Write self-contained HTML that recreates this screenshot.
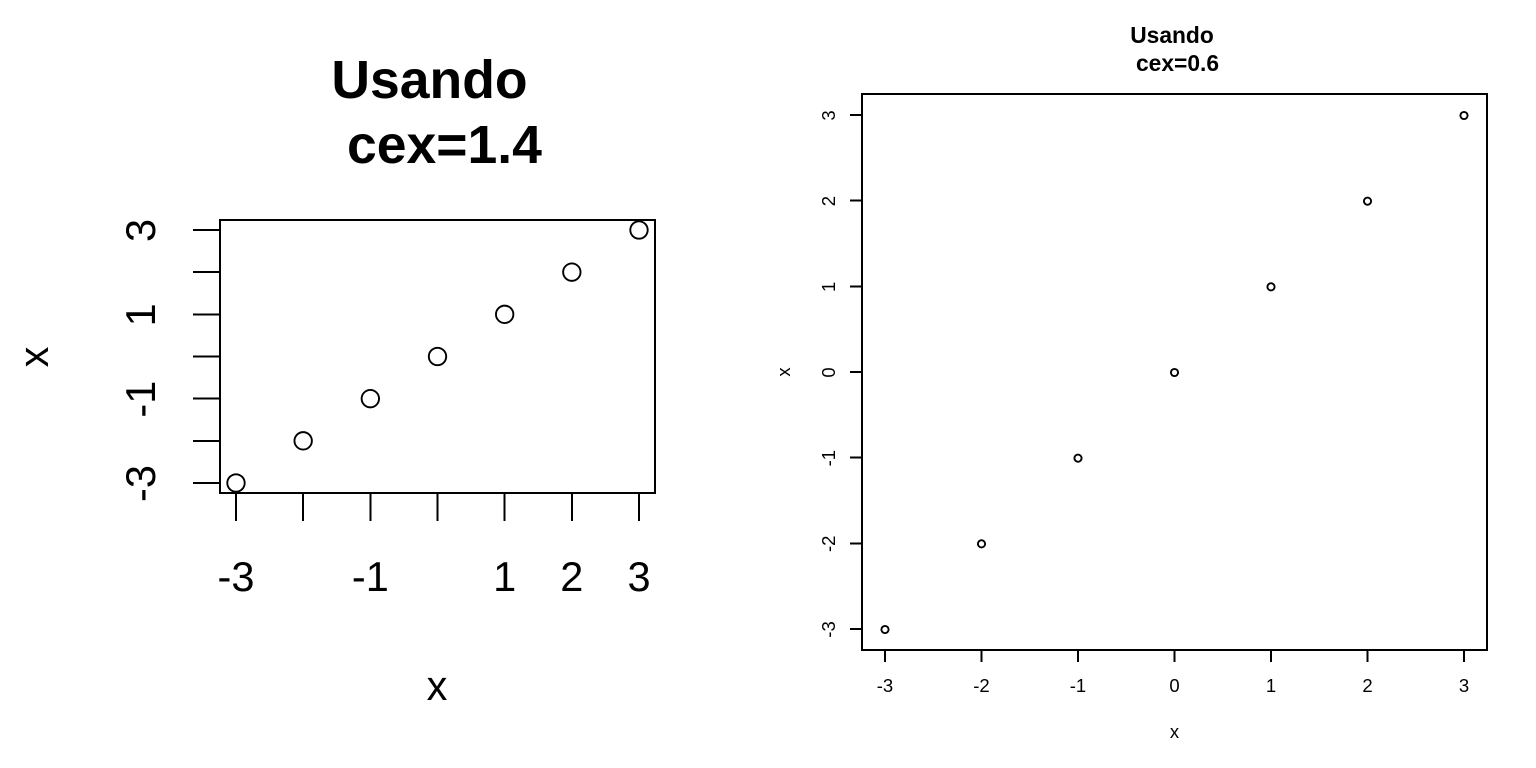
<!DOCTYPE html>
<html>
<head>
<meta charset="utf-8">
<style>
html,body{margin:0;padding:0;background:#fff;width:1536px;height:768px;overflow:hidden}
svg{display:block;font-family:"Liberation Sans",Arial,sans-serif}
</style>
</head>
<body>
<svg id="chart" xmlns="http://www.w3.org/2000/svg" width="1536" height="768" viewBox="0 0 1536 768"></svg>
<script>
const xValues = [-3, -2, -1, 0, 1, 2, 3];
const yValues = [-3, -2, -1, 0, 1, 2, 3];
const leftXTickLabels = ["-3", "", "-1", "", "1", "2", "3"];
const leftYTickLabels = ["-3", "", "-1", "", "1", "", "3"];
const rightXTickLabels = ["-3", "-2", "-1", "0", "1", "2", "3"];
const rightYTickLabels = ["-3", "-2", "-1", "0", "1", "2", "3"];
const ticks = [-3, -2, -1, 0, 1, 2, 3];

const svg = document.getElementById('chart');
const NS = 'http://www.w3.org/2000/svg';
function mk(tag, attrs, parent, text) {
  const e = document.createElementNS(NS, tag);
  for (const k in attrs) e.setAttribute(k, attrs[k]);
  if (text !== undefined) e.textContent = text;
  (parent || svg).appendChild(e);
  return e;
}
function scale(d0, d1, r0, r1) {
  return v => r0 + (v - d0) / (d1 - d0) * (r1 - r0);
}
function drawPanel(cfg) {
  const g = mk('g', {}, svg);
  
  
  const sx = scale(-3, 3, cfg.x0, cfg.x1);
  const sy = scale(-3, 3, cfg.y0, cfg.y1);

  const box = mk('rect', {x: cfg.bl, y: cfg.bt, width: cfg.br - cfg.bl, height: cfg.bb - cfg.bt, fill: 'none', stroke: '#000', 'stroke-width': 2, 'shape-rendering': 'crispEdges'}, g);
  
  

  ticks.forEach((t, i) => {
    const xt = mk('line', {x1: sx(t), x2: sx(t), y1: cfg.bb, y2: cfg.bb + cfg.tickX, stroke: '#000', 'stroke-width': 2, 'shape-rendering': 'crispEdges'}, g);
    
    
    const yt = mk('line', {y1: sy(t), y2: sy(t), x1: cfg.bl, x2: cfg.bl - cfg.tickY, stroke: '#000', 'stroke-width': 2, 'shape-rendering': 'crispEdges'}, g);
    
    
    if (cfg.xLabels[i]) {
      const xl = mk('text', {x: sx(t), y: cfg.xLabelY, 'text-anchor': 'middle', 'font-size': cfg.tickFont}, g, cfg.xLabels[i]);
      
      
    }
    if (cfg.yLabels[i]) {
      const yl = mk('text', {x: 0, y: 0, 'text-anchor': 'middle', 'font-size': cfg.tickFont, transform: 'translate(' + cfg.yLabelX + ',' + (sy(t) + 0.5) + ') rotate(-90)'}, g, cfg.yLabels[i]);
      
      
    }
  });

  xValues.forEach((v, i) => {
    const c = mk('circle', {cx: sx(v), cy: sy(yValues[i]) + cfg.markerDy, r: cfg.r, fill: 'none', stroke: '#000', 'stroke-width': 1.9}, g);
    
    
  });

  const xt = mk('text', {x: cfg.xTitleX, y: cfg.xTitleY, 'text-anchor': 'middle', 'font-size': cfg.labFont}, g, 'x');
  
  
  const yt = mk('text', {x: 0, y: 0, 'text-anchor': 'middle', 'font-size': cfg.labFont, transform: 'translate(' + cfg.yTitleX + ',' + cfg.yTitleY + ') rotate(-90)'}, g, 'x');
  
  

  const t1 = mk('text', {x: cfg.t1x, y: cfg.t1y, 'text-anchor': 'middle', 'font-size': cfg.titleFont, 'font-weight': 'bold'}, g, 'Usando');
  
  
  const t2 = mk('text', {x: cfg.t2x, y: cfg.t2y, 'text-anchor': 'middle', 'font-size': cfg.titleFont, 'font-weight': 'bold'}, g, cfg.sub);
  
  
}

drawPanel({
  name: 'left-panel', sub: 'cex=1.4',
  bl: 220, br: 655, bt: 220, bb: 493,
  x0: 236, x1: 639, y0: 483, y1: 230,
  tickX: 28, tickY: 27, r: 8.7, markerDy: 0,
  xLabels: leftXTickLabels, yLabels: leftYTickLabels,
  tickFont: 41.5, labFont: 41.5, titleFont: 53.5,
  xLabelY: 591, yLabelX: 155,
  xTitleX: 437, xTitleY: 700, yTitleX: 48, yTitleY: 357,
  t1x: 429.5, t1y: 98, t2x: 444.5, t2y: 163
});
drawPanel({
  name: 'right-panel', sub: 'cex=0.6',
  bl: 862, br: 1487, bt: 94, bb: 650,
  x0: 885, x1: 1464, y0: 629, y1: 115,
  tickX: 12, tickY: 12, r: 3.6, markerDy: 0.5,
  xLabels: rightXTickLabels, yLabels: rightYTickLabels,
  tickFont: 18.5, labFont: 18.5, titleFont: 22.8,
  xLabelY: 692, yLabelX: 835,
  xTitleX: 1174.5, xTitleY: 738, yTitleX: 790, yTitleY: 372,
  t1x: 1172, t1y: 43, t2x: 1177.5, t2y: 71
});
</script>
</body>
</html>
